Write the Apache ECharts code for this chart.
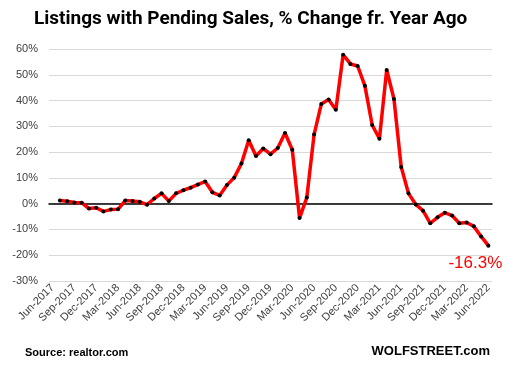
<!DOCTYPE html>
<html>
<head>
<meta charset="utf-8">
<script src="https://cdn.jsdelivr.net/npm/echarts@6/dist/echarts.min.js"></script>
<style>
html,body{margin:0;padding:0;background:#fff;}
#chart{width:508px;height:370px;}
</style>
</head>
<body>
<div id="chart"></div>
<script>
// Monthly categories, Jun-2017 .. Jun-2022
const categories = [
 'Jun-2017','Jul-2017','Aug-2017','Sep-2017','Oct-2017','Nov-2017','Dec-2017',
 'Jan-2018','Feb-2018','Mar-2018','Apr-2018','May-2018','Jun-2018','Jul-2018','Aug-2018','Sep-2018','Oct-2018','Nov-2018','Dec-2018',
 'Jan-2019','Feb-2019','Mar-2019','Apr-2019','May-2019','Jun-2019','Jul-2019','Aug-2019','Sep-2019','Oct-2019','Nov-2019','Dec-2019',
 'Jan-2020','Feb-2020','Mar-2020','Apr-2020','May-2020','Jun-2020','Jul-2020','Aug-2020','Sep-2020','Oct-2020','Nov-2020','Dec-2020',
 'Jan-2021','Feb-2021','Mar-2021','Apr-2021','May-2021','Jun-2021','Jul-2021','Aug-2021','Sep-2021','Oct-2021','Nov-2021','Dec-2021',
 'Jan-2022','Feb-2022','Mar-2022','Apr-2022','May-2022','Jun-2022'
];
// % change from year ago (Jun-2017 has no value plotted)
const pendingChange = [
 null,
 1.2, 0.9, 0.5, 0.4, -1.9, -1.6,
 -3.0, -2.3, -2.2, 1.2, 1.0, 0.7, -0.4, 2.0, 4.0, 1.0, 4.0, 5.2,
 6.2, 7.4, 8.6, 4.4, 3.2, 7.2, 10.1, 15.6, 24.6, 18.5, 21.4, 19.2,
 21.6, 27.4, 20.9, -5.6, 2.4, 26.8, 38.7, 40.4, 36.4, 57.8, 54.2, 53.4,
 45.7, 30.5, 25.2, 51.9, 40.6, 14.2, 4.0, -0.3, -2.7, -7.6, -5.3, -3.5,
 -4.6, -7.6, -7.3, -8.8, -12.7, -16.3
];
const yTicks = {min: -30, max: 60, interval: 10};
const lastLabel = '-16.3%';

const seriesData = pendingChange.map((v, i) => {
  if (i === pendingChange.length - 1) {
    return {value: v, label: {show: true, formatter: lastLabel, position: 'bottom',
      offset: [-13, 2], color: '#ff0000', fontSize: 17, fontFamily: 'Liberation Sans'}};
  }
  return v;
});

const chart = echarts.init(document.getElementById('chart'), null, {renderer: 'canvas'});
chart.setOption({
  animation: false,
  backgroundColor: '#ffffff',
  title: {
    text: 'Listings with Pending Sales, % Change fr. Year Ago',
    left: 29, top: 5,
    textStyle: {fontFamily: 'Roboto', fontWeight: 'bold', fontSize: 19, color: '#000'}
  },
  graphic: [
    {type: 'text', left: 25, top: 347, style: {text: 'Source: realtor.com', font: 'bold 11px "Liberation Sans"', fill: '#000'}},
    {type: 'text', right: 18, top: 345, style: {text: 'WOLFSTREET.com', font: 'bold 13px "Liberation Sans"', fill: '#000'}}
  ],
  grid: {left: 49, right: 16, top: 49, bottom: 89, containLabel: false},
  xAxis: [
    {
      type: 'category', data: categories, boundaryGap: true,
      axisLine: {show: false, onZero: false},
      axisTick: {show: false},
      axisLabel: {interval: 2, rotate: 45, margin: 5, fontSize: 11, color: '#404040', fontFamily: 'Liberation Sans'},
      splitLine: {show: false}
    },
    {
      type: 'category', data: categories, boundaryGap: true, position: 'bottom',
      axisLine: {show: true, onZero: true, lineStyle: {color: '#000', width: 1.5}},
      axisTick: {show: false}, axisLabel: {show: false}, splitLine: {show: false}
    }
  ],
  yAxis: {
    type: 'value', min: yTicks.min, max: yTicks.max, interval: yTicks.interval,
    axisLine: {show: false}, axisTick: {show: false},
    axisLabel: {formatter: v => v + '%', fontSize: 11, color: '#404040', fontFamily: 'Liberation Sans', margin: 11},
    splitLine: {lineStyle: {color: '#d9d9d9', width: 1}}
  },
  series: [{
    type: 'line', xAxisIndex: 0, data: seriesData,
    connectNulls: false,
    lineStyle: {color: '#ff0000', width: 3.5},
    symbol: 'circle', symbolSize: 4, showSymbol: true,
    itemStyle: {color: '#000', borderWidth: 0},
    z: 3
  }]
});
</script>
</body>
</html>
